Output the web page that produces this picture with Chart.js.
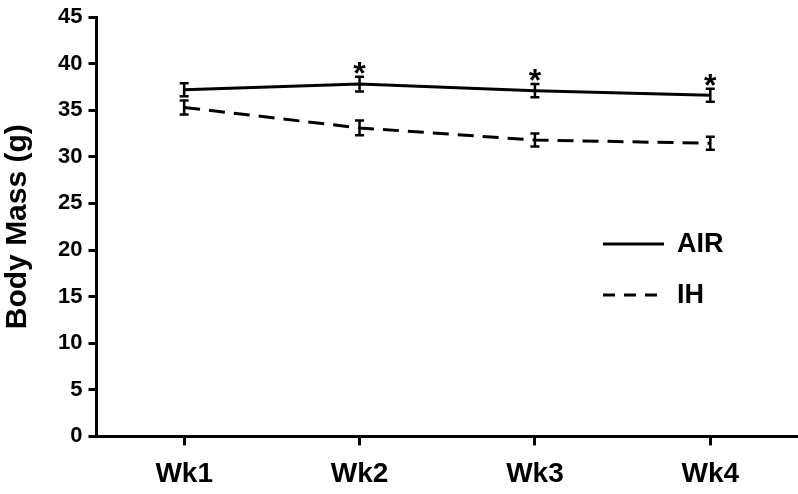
<!DOCTYPE html>
<html>
<head>
<meta charset="utf-8">
<script src="https://cdn.jsdelivr.net/npm/chart.js@4/dist/chart.umd.min.js"></script>
<style>
  html, body { margin: 0; padding: 0; background: #fff; }
  #wrap { width: 798px; height: 494px; }
</style>
</head>
<body>
<div id="wrap"><canvas id="chart"></canvas></div>
<script>
const weeks = ['Wk1', 'Wk2', 'Wk3', 'Wk4'];
const airMass = [37.2, 37.8, 37.1, 36.6];
const airErr = [0.7, 0.8, 0.7, 0.7];
const ihMass = [35.3, 33.1, 31.8, 31.45];
const ihErr = [0.75, 0.8, 0.7, 0.7];
const significant = [false, true, true, true];

const FONT = '"Liberation Sans", Arial, sans-serif';

const errorBars = {
  id: 'errorBars',
  afterDatasetsDraw(chart) {
    const ctx = chart.ctx;
    const y = chart.scales.y;
    const errs = [airErr, ihErr];
    ctx.save();
    ctx.strokeStyle = '#000';
    ctx.lineWidth = 2.5;
    chart.data.datasets.forEach((ds, di) => {
      const meta = chart.getDatasetMeta(di);
      meta.data.forEach((pt, i) => {
        const v = ds.data[i];
        const top = y.getPixelForValue(v + errs[di][i]);
        const bot = y.getPixelForValue(v - errs[di][i]);
        ctx.beginPath();
        ctx.moveTo(pt.x, top); ctx.lineTo(pt.x, bot);
        ctx.moveTo(pt.x - 4.5, top); ctx.lineTo(pt.x + 4.5, top);
        ctx.moveTo(pt.x - 4.5, bot); ctx.lineTo(pt.x + 4.5, bot);
        ctx.stroke();
      });
    });
    // asterisks above AIR
    ctx.fillStyle = '#000';
    ctx.font = 'bold 32px ' + FONT;
    ctx.textAlign = 'center';
    ctx.textBaseline = 'alphabetic';
    const airMeta = chart.getDatasetMeta(0);
    airMeta.data.forEach((pt, i) => {
      if (!significant[i]) return;
      const top = y.getPixelForValue(airMass[i] + airErr[i]);
      ctx.fillText('*', pt.x, top + 7);
    });
    // legend inside plot
    const items = [
      { label: 'AIR', dash: [], yv: 244 },
      { label: 'IH', dash: [12, 9], yv: 295 }
    ];
    ctx.font = 'bold 27px ' + FONT;
    ctx.textAlign = 'left';
    ctx.textBaseline = 'middle';
    items.forEach(it => {
      ctx.setLineDash(it.dash);
      ctx.lineWidth = 3;
      ctx.beginPath();
      ctx.moveTo(603, it.yv); ctx.lineTo(664, it.yv);
      ctx.stroke();
      ctx.setLineDash([]);
      ctx.fillText(it.label, 677, it.yv + 1);
    });
    ctx.restore();
  }
};

new Chart(document.getElementById('chart'), {
  type: 'line',
  data: {
    labels: weeks,
    datasets: [{
      label: 'AIR',
      data: airMass,
      borderColor: '#000',
      borderWidth: 3,
      pointRadius: 0,
      tension: 0
    }, {
      label: 'IH',
      data: ihMass,
      borderColor: '#000',
      borderWidth: 3,
      borderDash: [16, 9],
      pointRadius: 0,
      tension: 0
    }]
  },
  options: {
    responsive: true,
    maintainAspectRatio: false,
    animation: false,
    layout: { padding: { top: 2, right: 0, bottom: -9, left: 0 } },
    plugins: {
      legend: { display: false },
      tooltip: { enabled: false }
    },
    scales: {
      x: {
        offset: true,
        grid: { display: true, drawOnChartArea: false, color: '#000', lineWidth: 3, tickLength: 9, offset: false },
        border: { color: '#000', width: 3 },
        ticks: { color: '#000', font: { family: FONT, size: 28, weight: 'bold' }, padding: 12 }
      },
      y: {
        min: 0,
        max: 45,
        grid: { display: true, drawOnChartArea: false, color: '#000', lineWidth: 3, tickLength: 8 },
        border: { color: '#000', width: 3 },
        ticks: { stepSize: 5, color: '#000', font: { family: FONT, size: 22, weight: 'bold', lineHeight: 1 }, padding: 6 },
        title: {
          display: true, text: 'Body Mass (g)', color: '#000',
          font: { family: FONT, size: 30, weight: 'bold', lineHeight: 1 },
          padding: { top: 3, bottom: 19 }
        }
      }
    }
  },
  plugins: [errorBars]
});
</script>
</body>
</html>
